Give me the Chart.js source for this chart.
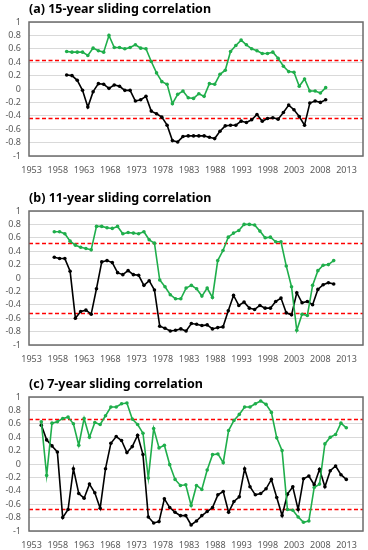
<!DOCTYPE html>
<html>
<head>
<meta charset="utf-8">
<script src="https://cdn.jsdelivr.net/npm/chart.js@4"></script>
<style>
  html, body { margin: 0; padding: 0; background: #fff; }
  body { width: 368px; height: 550px; position: relative; overflow: hidden; }
  .panel { position: absolute; left: 0; width: 368px; height: 175px; }
</style>
</head>
<body>
<div class="panel" style="top:0px"><canvas id="chartA"></canvas></div>
<div class="panel" style="top:189px"><canvas id="chartB"></canvas></div>
<div class="panel" style="top:375px"><canvas id="chartC"></canvas></div>
<script>
// x axis tick labels
const xTickYears = [1953, 1958, 1963, 1968, 1973, 1978, 1983, 1988, 1993, 1998, 2003, 2008, 2013];

// (a) 15-year window, 1960-2009
const startA = 1960;
const greenA = [0.56, 0.55, 0.55, 0.55, 0.50, 0.61, 0.57, 0.55, 0.80, 0.62,
                0.62, 0.60, 0.62, 0.66, 0.61, 0.60, 0.41, 0.24, 0.11, 0.07,
                -0.22, -0.08, -0.03, -0.13, -0.14, -0.07, -0.11, 0.08, 0.07, 0.22,
                0.28, 0.56, 0.65, 0.73, 0.66, 0.60, 0.57, 0.53, 0.53, 0.55,
                0.46, 0.34, 0.26, 0.25, 0.04, 0.15, -0.03, -0.03, -0.06, 0.02];
const blackA = [0.21, 0.20, 0.13, -0.02, -0.27, -0.04, 0.08, 0.07, 0.01, 0.06,
                0.04, -0.02, -0.02, -0.18, -0.16, -0.11, -0.33, -0.37, -0.42, -0.54,
                -0.77, -0.79, -0.71, -0.70, -0.70, -0.70, -0.70, -0.72, -0.74, -0.63,
                -0.55, -0.54, -0.54, -0.48, -0.50, -0.46, -0.38, -0.48, -0.44, -0.43,
                -0.45, -0.35, -0.24, -0.31, -0.41, -0.54, -0.21, -0.18, -0.20, -0.16];
const thresholdA = 0.44;

// (b) 11-year window, 1958-2011
const startB = 1958;
const greenB = [0.69, 0.69, 0.66, 0.55, 0.49, 0.46, 0.44, 0.42, 0.77, 0.77,
                0.75, 0.74, 0.77, 0.66, 0.68, 0.67, 0.66, 0.69, 0.57, 0.52,
                -0.03, -0.13, -0.25, -0.31, -0.31, -0.15, -0.11, -0.16, -0.27, -0.15,
                -0.29, 0.26, 0.41, 0.61, 0.67, 0.71, 0.80, 0.80, 0.79, 0.70,
                0.60, 0.61, 0.54, 0.54, 0.18, -0.13, -0.78, -0.54, -0.56, -0.11,
                0.11, 0.19, 0.20, 0.26];
const blackB = [0.31, 0.29, 0.29, 0.10, -0.60, -0.50, -0.48, -0.54, -0.16, 0.24,
                0.26, 0.23, 0.08, 0.05, 0.11, 0.05, 0.04, -0.11, -0.04, -0.18,
                -0.72, -0.75, -0.79, -0.78, -0.76, -0.79, -0.68, -0.69, -0.71, -0.70,
                -0.76, -0.74, -0.73, -0.49, -0.26, -0.41, -0.36, -0.45, -0.47, -0.41,
                -0.45, -0.45, -0.35, -0.30, -0.52, -0.55, -0.22, -0.37, -0.35, -0.40,
                -0.17, -0.10, -0.07, -0.09];
const thresholdB = 0.52;

// (c) 7-year window, 1956-2013
const startC = 1956;
const greenC = [0.63, -0.17, 0.61, 0.63, 0.68, 0.70, 0.60, 0.28, 0.68, 0.40,
                0.62, 0.59, 0.72, 0.85, 0.85, 0.90, 0.91, 0.67, 0.59, 0.46,
                -0.21, 0.53, 0.24, 0.28, -0.01, -0.23, -0.32, -0.31, -0.62, -0.32,
                -0.38, -0.09, 0.14, 0.15, 0.02, 0.50, 0.65, 0.74, 0.85, 0.85,
                0.90, 0.94, 0.89, 0.77, 0.39, 0.20, -0.68, -0.69, -0.79, -0.87,
                -0.85, -0.35, -0.30, 0.30, 0.40, 0.44, 0.61, 0.54];
const blackC = [0.58, 0.36, 0.27, 0.18, -0.80, -0.68, -0.07, -0.44, -0.51, -0.30,
                -0.43, -0.66, -0.07, 0.31, 0.41, 0.35, 0.17, 0.26, 0.43, 0.14,
                -0.79, -0.88, -0.86, -0.52, -0.65, -0.72, -0.77, -0.77, -0.91, -0.85,
                -0.77, -0.71, -0.65, -0.46, -0.41, -0.72, -0.56, -0.49, -0.07, -0.34,
                -0.46, -0.44, -0.37, -0.23, -0.50, -0.77, -0.45, -0.34, -0.68, -0.22,
                -0.18, -0.31, -0.08, -0.34, -0.10, -0.03, -0.16, -0.23];
const thresholdC = 0.67;

const FONT = "'Noto Sans', 'Noto Sans CJK KR', sans-serif";

// dashed significance lines at +/- threshold
const thresholdLines = {
    id: 'thresholdLines',
    beforeDatasetsDraw(chart, args, opts) {
        const { ctx, chartArea } = chart;
        const y = chart.scales.y;
        ctx.save();
        ctx.strokeStyle = '#ff0000';
        ctx.lineWidth = 1.5;
        ctx.setLineDash([4, 2.5]);
        [opts.value, -opts.value].forEach(v => {
            const py = Math.round(y.getPixelForValue(v)) + 0.5;
            ctx.beginPath();
            ctx.moveTo(chartArea.left, py);
            ctx.lineTo(chartArea.right, py);
            ctx.stroke();
        });
        ctx.restore();
    }
};

// box round the plot area
const plotFrame = {
    id: 'plotFrame',
    afterDraw(chart) {
        const { ctx, chartArea } = chart;
        ctx.save();
        ctx.strokeStyle = '#6b6b6b';
        ctx.lineWidth = 1.5;
        ctx.strokeRect(chartArea.left, chartArea.top,
                       chartArea.right - chartArea.left, chartArea.bottom - chartArea.top);
        ctx.restore();
    }
};

function toPoints(start, values) {
    return values.map((v, i) => ({ x: start + i, y: v }));
}

// xRange: span of the (hidden) axis the series are plotted on; the
// original figure's series sit slightly off its own year labels
function makePanel(id, title, start, green, black, threshold, xRange) {
    const ctx = document.getElementById(id).getContext('2d');
    const series = (values, color) => ({
        data: toPoints(start, values),
        xAxisID: 'xd',
        borderColor: color,
        backgroundColor: color,
        borderWidth: 1.6,
        pointRadius: 1.8,
        pointBorderWidth: 0,
        tension: 0
    });
    return new Chart(ctx, {
        type: 'line',
        data: {
            datasets: [series(green, '#1fae4b'), series(black, '#000000')]
        },
        options: {
            responsive: true,
            maintainAspectRatio: false,
            animation: false,
            layout: { padding: { left: 0, right: 5, top: 0, bottom: 0 } },
            plugins: {
                legend: { display: false },
                tooltip: { enabled: false },
                title: {
                    display: true,
                    text: title,
                    align: 'start',
                    fullSize: false,
                    color: '#000',
                    font: { family: FONT, size: 12.5, weight: 'bold' },
                    padding: { top: 2, bottom: 5 }
                },
                thresholdLines: { value: threshold }
            },
            scales: {
                x: {
                    type: 'linear',
                    min: 1952.5,
                    max: 2016.14,
                    afterBuildTicks: s => { s.ticks = xTickYears.map(v => ({ value: v })); },
                    afterFit: s => { s.height = 19; },
                    grid: { display: false, drawTicks: false },
                    border: { display: false },
                    ticks: {
                        callback: v => String(v),
                        autoSkip: false,
                        maxRotation: 0,
                        padding: 9,
                        color: '#595959',
                        font: { family: FONT, size: 9 }
                    }
                },
                xd: {
                    type: 'linear',
                    display: false,
                    min: xRange[0],
                    max: xRange[1]
                },
                y: {
                    min: -1,
                    max: 1,
                    afterFit: s => { s.width = 29; },
                    grid: { color: '#d9d9d9', drawTicks: false },
                    border: { display: false },
                    ticks: {
                        stepSize: 0.2,
                        autoSkip: false,
                        callback: v => String(Number(v.toFixed(1))),
                        padding: 8,
                        color: '#595959',
                        font: { family: FONT, size: 9 }
                    }
                }
            }
        },
        plugins: [thresholdLines, plotFrame]
    });
}

window.onload = function () {
    makePanel('chartA', '(a) 15-year sliding correlation', startA, greenA, blackA, thresholdA, [1952.87, 2016.06]);
    makePanel('chartB', '(b) 11-year sliding correlation', startB, greenB, blackB, thresholdB, [1953.2, 2016.56]);
    makePanel('chartC', '(c) 7-year sliding correlation', startC, greenC, blackC, thresholdC, [1953.7, 2016.12]);
};
</script>
</body>
</html>
